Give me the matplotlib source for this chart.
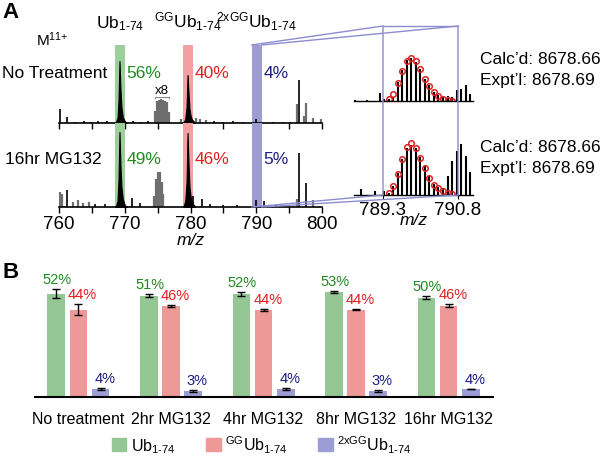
import numpy as np
import matplotlib.pyplot as plt
from matplotlib.patches import Patch, ConnectionPatch

plt.rcParams['font.family'] = ['Liberation Sans', 'DejaVu Sans']
plt.rcParams['mathtext.fontset'] = 'custom'
plt.rcParams['mathtext.rm'] = 'Liberation Sans'
plt.rcParams['mathtext.it'] = 'Liberation Sans:italic'

W, H = 600, 460

# ---------------- Panel A data ----------------
band_lo = [768.5, 778.9, 789.3]
band_hi = [770.0, 780.4, 790.8]
band_colors = ['#9ccf9c', '#f2a0a0', '#9d9dd2']
species = ['Ub$_{\\text{1-74}}$', '$^{\\text{GG}}$Ub$_{\\text{1-74}}$',
           '$^{\\text{2xGG}}$Ub$_{\\text{1-74}}$']
txt_colors = ['#1f8a1f', '#e01e1e', '#1c1c80']
pct_untreated = ['56%', '40%', '4%']
pct_mg132 = ['49%', '46%', '5%']

# main isotope envelopes (m/z, relative height)
env_mz_green = [768.6, 768.9, 769.05, 769.2, 769.35, 769.5, 769.7, 770.0, 770.3]
env_mz_red = [778.9, 779.2, 779.4, 779.55, 779.7, 779.85, 780.05, 780.3, 780.7]
env_top_green = [0, 5, 22, 62, 34, 16, 6, 2, 0]
env_top_red = [0, 4, 16, 48, 30, 14, 6, 3, 0]
env_bot_green = [0, 6, 27, 75, 42, 20, 8, 2, 0]
env_bot_red = [0, 6, 25, 74, 44, 20, 9, 4, 0]

# stick peaks: top spectrum (untreated)
top_black_mz = [760.15, 761.2, 762.5, 763.8, 764.9, 766.0, 767.3, 771.2, 772.4, 773.5,
                783.5, 785.0, 786.5, 788.0, 790.0, 792.5, 794.0, 795.2, 796.5]
top_black_h = [14, 6, 1.5, 2, 1.5, 2, 2.5, 2, 1.5, 2, 2, 1.5, 2, 1.5, 4, 1.5, 1, 1.5, 43]
top_gray_mz = [774.6, 774.9, 775.2, 775.5, 775.8, 776.1, 776.4, 776.7,
               778.5, 780.8, 781.5, 782.3, 796.2, 797.3, 797.6, 798.6, 799.8]
top_gray_h = [12, 22, 23, 24, 23, 22, 21, 11, 4, 5, 4, 3, 19, 7, 20, 5, 4]

# stick peaks: bottom spectrum (16hr MG132)
bot_black_mz = [761.2, 765.5, 767.0, 771.1, 772.3, 780.4, 781.7, 783.0, 785.0, 787.0,
                789.9, 791.2, 793.0, 796.5, 797.6]
bot_black_h = [17, 3, 3, 9, 4, 11, 8, 3, 2, 2, 7, 6, 2, 54, 24]
bot_gray_mz = [760.1, 760.4, 762.2, 762.9, 763.6, 764.5, 774.45, 774.75, 775.05,
               775.3, 775.6, 775.85, 796.2, 798.6]
bot_gray_h = [15, 13, 5, 7, 4, 5, 11, 28, 35, 35, 25, 13, 8, 7]

# zoomed isotope distribution (M11+, 2xGG)
zin_top_mz = [788.74, 788.98, 789.24, 789.33, 789.42, 789.51, 789.60, 789.69, 789.78,
              789.87, 789.96, 790.05, 790.14, 790.23, 790.32, 790.41, 790.51, 790.60,
              790.69, 790.78, 790.87, 790.96, 791.05]
zin_top_h = [1, 1, 8, 2, 2, 4, 19, 31, 41, 43, 39, 32, 22, 16, 9, 6, 4, 5, 4, 11, 12, 16, 7]
zin_bot_mz = [788.87, 789.14, 789.33, 789.42, 789.51, 789.60, 789.69, 789.78, 789.87,
              789.96, 790.05, 790.14, 790.23, 790.32, 790.41, 790.51, 790.60, 790.69,
              790.78, 790.87, 790.96, 791.05]
zin_bot_h = [6, 4, 4, 2, 9, 22, 36, 47, 50, 47, 38, 29, 19, 11, 8, 7, 19, 34, 44, 51, 39, 23]
theo_mz = [789.42, 789.51, 789.60, 789.69, 789.78, 789.87, 789.96, 790.05, 790.14,
           790.23, 790.32, 790.41, 790.51, 790.60, 790.69]
theo_top = [2, 7, 18, 30, 40, 43, 40, 32, 22, 15, 9, 5, 2, 1, 0.3]
theo_bot = [2, 9, 21, 36, 48, 52, 47, 37, 27, 17, 10, 7, 4, 2, 1]

# ---------------- Panel B data ----------------
conditions = ['No treatment', '2hr MG132', '4hr MG132', '8hr MG132', '16hr MG132']
ub_pct = [52, 51, 52, 53, 50]
gg_pct = [44, 46, 44, 44, 46]
gg2_pct = [4, 3, 4, 3, 4]
ub_err = [2.2, 0.8, 0.9, 0.4, 0.8]
gg_err = [2.7, 0.5, 0.6, 0.2, 0.7]
gg2_err = [0.4, 0.3, 0.3, 0.3, 0.2]
bar_colors = ['#94c794', '#ef9898', '#9d9dd6']

fig = plt.figure(figsize=(6, 4.6), dpi=100)


def px_axes(left, top, right, bottom):
    return fig.add_axes([left / W, 1 - bottom / H, (right - left) / W, (bottom - top) / H])


def fpos(x, y):
    return x / W, 1 - y / H


FS = 12.5

# main spectra
ax_t = px_axes(59, 46, 322, 124)
ax_b = px_axes(59, 124, 322, 208)
for ax, top in ((ax_t, 78), (ax_b, 84)):
    ax.set_xlim(760, 800)
    ax.set_ylim(0, top)
    ax.patch.set_alpha(0)
    for s in ('top', 'right', 'left'):
        ax.spines[s].set_visible(False)
    ax.spines['bottom'].set_linewidth(1.2)
    ax.set_yticks([])
    ax.set_xticks(np.arange(760, 801, 10))
    ax.set_xticks(np.arange(765, 800, 10), minor=True)
    ax.tick_params(axis='x', which='both', direction='out', length=4, width=1)
    for lo, hi, c in zip(band_lo, band_hi, band_colors):
        ax.axvspan(lo, hi, color=c, lw=0, zorder=0)
ax_t.set_xticklabels([])
ax_b.tick_params(axis='x', labelsize=13.5, pad=2)
ax_b.set_xlabel('m/z', style='italic', fontsize=FS, labelpad=0)

ax_t.fill_between(env_mz_green, env_top_green, color='k', lw=0.8)
ax_t.fill_between(env_mz_red, env_top_red, color='k', lw=0.8)
ax_b.fill_between(env_mz_green, env_bot_green, color='k', lw=0.8)
ax_b.fill_between(env_mz_red, env_bot_red, color='k', lw=0.8)
ax_t.vlines(top_gray_mz, 0, top_gray_h, color='#6e6e6e', lw=1.6)
ax_t.vlines(top_black_mz, 0, top_black_h, color='k', lw=1.2)
ax_b.vlines(bot_gray_mz, 0, bot_gray_h, color='#6e6e6e', lw=1.6)
ax_b.vlines(bot_black_mz, 0, bot_black_h, color='k', lw=1.2)

# x8 marker over the magnified cluster
ax_t.plot([774.6, 774.6, 776.7, 776.7], [25, 26.5, 26.5, 25], color='#888888', lw=0.8)
ax_t.text(775.65, 27, 'x8', ha='center', va='bottom', fontsize=9.5)

for i in range(3):
    xc = (band_lo[i] + band_hi[i]) / 2
    ax_t.text(xc, 96, species[i], ha='center', va='baseline', fontsize=FS, clip_on=False)
    ax_t.text(band_hi[i] + 0.25, 50, pct_untreated[i], color=txt_colors[i],
              fontsize=FS, va='center', ha='left')
    ax_b.text(band_hi[i] + 0.25, 48, pct_mg132[i], color=txt_colors[i],
              fontsize=FS, va='center', ha='left')

fig.text(*fpos(2, 12), 'A', fontsize=16, fontweight='bold', va='center')
fig.text(*fpos(36, 40), 'M$^{\\text{11+}}$', fontsize=11, va='center')
fig.text(*fpos(2, 74), 'No Treatment', fontsize=FS, va='center')
fig.text(*fpos(5, 160), '16hr MG132', fontsize=FS, va='center')

# zoomed insets
zin_t = px_axes(354, 27, 473, 102)
zin_b = px_axes(354, 120, 473, 196)
for ax, top in ((zin_t, 75), (zin_b, 76)):
    ax.set_xlim(788.72, 791.1)
    ax.set_ylim(0, top)
    ax.patch.set_alpha(0)
    for s in ('top', 'right', 'left'):
        ax.spines[s].set_visible(False)
    ax.spines['bottom'].set_linewidth(1.0)
    ax.set_yticks([])
zin_t.set_xticks([])
zin_b.set_xticks([789.3, 790.8])
zin_b.set_xticklabels(['789.3', '790.8'])
zin_b.tick_params(axis='x', length=3, labelsize=13.5, pad=1)
zin_b.set_xlabel('m/z', style='italic', fontsize=FS, labelpad=-4)

zin_t.vlines(zin_top_mz, 0, zin_top_h, color='k', lw=1.5)
zin_b.vlines(zin_bot_mz, 0, zin_bot_h, color='k', lw=1.5)
zin_t.plot(theo_mz, theo_top, 'o', mfc='none', mec='#e02020', ms=4, mew=1.1)
zin_b.plot(theo_mz, theo_bot, 'o', mfc='none', mec='#e02020', ms=4, mew=1.1)

box_c = '#8c8cd0'
zin_t.plot([789.3, 790.8], [75, 75], color=box_c, lw=1, clip_on=False)
for mz in (789.3, 790.8):
    fig.add_artist(ConnectionPatch((mz, 75), (mz, 0), 'data', 'data', axesA=zin_t,
                                   axesB=zin_b, color=box_c, lw=1))
    fig.add_artist(ConnectionPatch((mz, 78), (mz, 75), 'data', 'data', axesA=ax_t,
                                   axesB=zin_t, color=box_c, lw=1))
    fig.add_artist(ConnectionPatch((mz, 0), (mz, 0), 'data', 'data', axesA=ax_b,
                                   axesB=zin_b, color=box_c, lw=1))

for y, c1, c2 in ((60, 'Calc\u2019d: 8678.66', 'Expt\u2019l: 8678.69'),
                  (147, 'Calc\u2019d: 8678.66', 'Expt\u2019l: 8678.69')):
    fig.text(*fpos(480, y), c1, fontsize=FS, va='center')
    fig.text(*fpos(480, y + 21), c2, fontsize=FS, va='center')

# ---------------- Panel B ----------------
axB = px_axes(35, 275, 493, 398)
x = np.arange(len(conditions))
bw = 0.19
off = 0.24
series = [(ub_pct, ub_err), (gg_pct, gg_err), (gg2_pct, gg2_err)]
for k, (vals, errs) in enumerate(series):
    xs = x + (k - 1) * off
    axB.bar(xs, vals, width=bw, color=bar_colors[k], lw=0)
    axB.errorbar(xs, vals, yerr=errs, fmt='none', ecolor='k', elinewidth=1,
                 capsize=3, capthick=1)
    for xi, v, e in zip(xs, vals, errs):
        axB.text(xi + (0.01 if k == 0 else 0.045), v + e + 1.5, f'{v}%',
                 color=txt_colors[k], ha='center', va='bottom', fontsize=10.5)

axB.set_xlim(-0.47, 4.48)
axB.set_ylim(0, 62)
for s in ('top', 'right', 'left'):
    axB.spines[s].set_visible(False)
axB.spines['bottom'].set_linewidth(1.5)
axB.set_yticks([])
axB.set_xticks(x)
axB.set_xticklabels(conditions, fontsize=11.5)
axB.tick_params(axis='x', length=0, pad=10)

fig.text(*fpos(2, 272), 'B', fontsize=16, fontweight='bold', va='center')

handles = [Patch(color=c) for c in bar_colors]
fig.legend(handles, species, loc='center', bbox_to_anchor=(262 / W, 1 - 445 / H),
           ncol=3, frameon=False, fontsize=11.5, handlelength=0.9, handleheight=0.9,
           handletextpad=0.3, columnspacing=1.9)

fig.savefig('out.png', dpi=100)
